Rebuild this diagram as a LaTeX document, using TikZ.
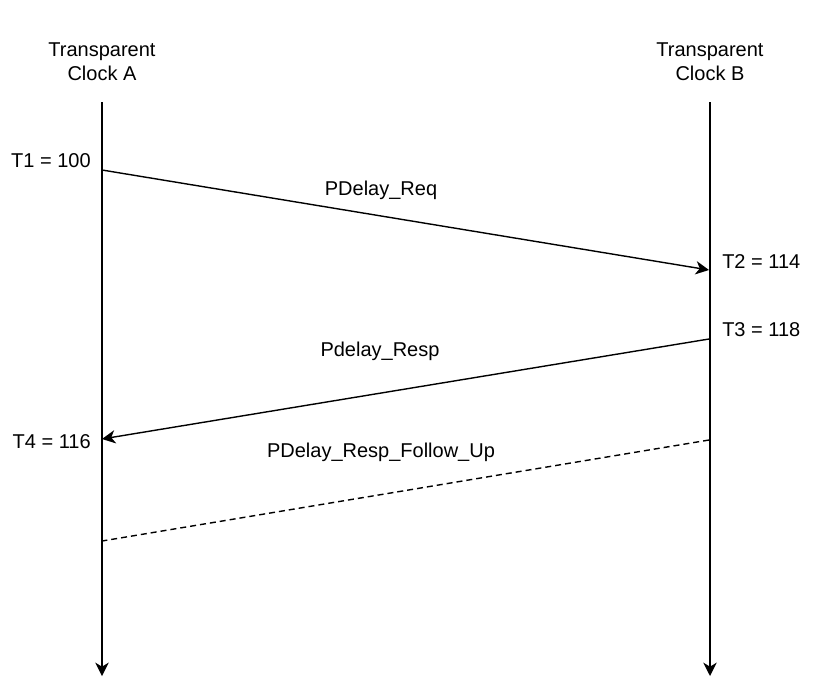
\documentclass[tikz,border=0pt]{standalone}
\usepackage{fontspec}
\setmainfont{Liberation Sans}
\usetikzlibrary{arrows.meta}
\begin{document}
\begin{tikzpicture}[x=0.75pt,y=-0.75pt,
  lbl/.style={font=\fontsize{15}{18}\selectfont, inner sep=0pt, anchor=base},
  lifeline/.style={line width=1.2pt, -{Stealth[length=10pt,width=10pt,inset=3pt]}},
  msg/.style={line width=1.05pt, -{Stealth[length=10pt,width=10pt,inset=3pt]}},
  followup/.style={line width=1.05pt, dash pattern=on 4.5pt off 3pt}]
\useasboundingbox (0,0) rectangle (817,697);
% headers
\node[lbl] (ha1) at (102,56) {Transparent};
\node[lbl] (ha2) at (102,80) {Clock A};
\node[lbl] (hb1) at (710,56) {Transparent};
\node[lbl] (hb2) at (710,80) {Clock B};
% lifelines
\coordinate (atop) at (102,102);
\coordinate (abot) at (102,676);
\coordinate (btop) at (710,102);
\coordinate (bbot) at (710,676);
\draw[lifeline] (atop) -- (abot);
\draw[lifeline] (btop) -- (bbot);
% message endpoints
\coordinate (t1) at (102,170);
\coordinate (t2) at (709,270);
\coordinate (t3) at (709,339);
\coordinate (t4) at (102,439);
\coordinate (fb) at (709,440);
\coordinate (fa) at (102,541);
\draw[msg] (t1) -- (t2);
\draw[msg] (t3) -- (t4);
\draw[followup] (fb) -- (fa);
% labels
\node[lbl, anchor=base east] (l1) at (91,167) {T1 = 100};
\node[lbl, anchor=base west] (l2) at (722,268) {T2 = 114};
\node[lbl, anchor=base west] (l3) at (722,336) {T3 = 118};
\node[lbl, anchor=base east] (l4) at (91,448) {T4 = 116};
\node[lbl] (m1) at (381,195) {PDelay\_Req};
\node[lbl] (m2) at (380,356) {Pdelay\_Resp};
\node[lbl] (m3) at (381,457) {PDelay\_Resp\_Follow\_Up};
\end{tikzpicture}
\end{document}
